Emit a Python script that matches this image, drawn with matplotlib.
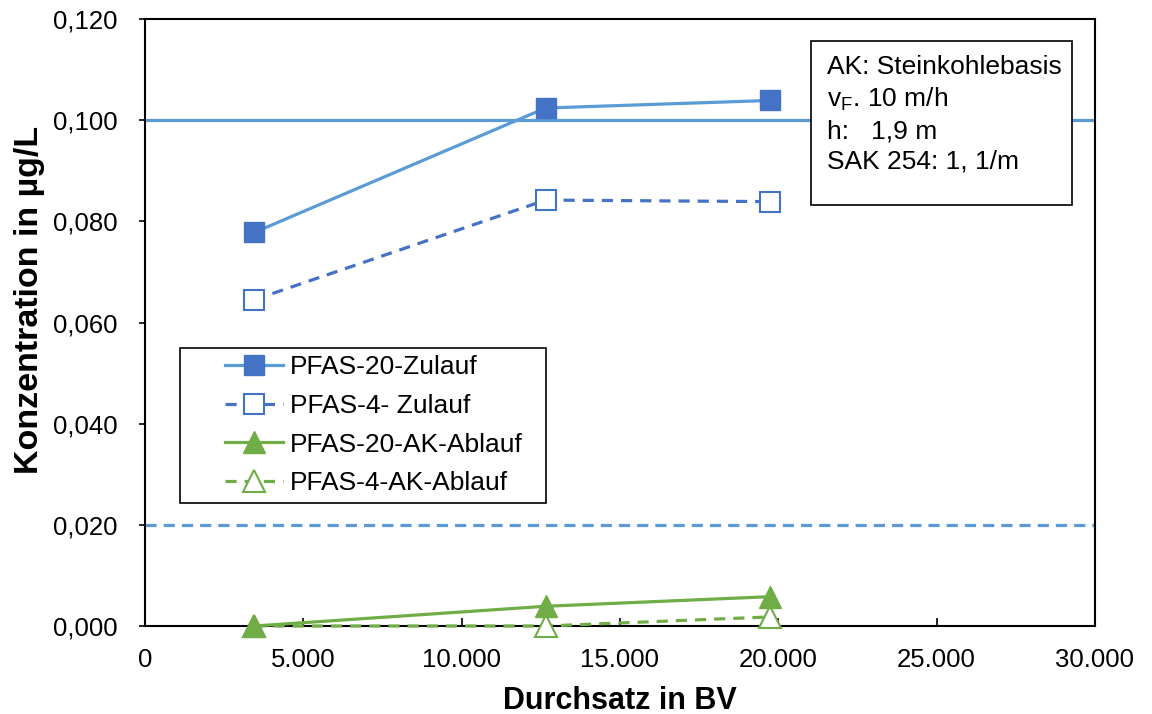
import matplotlib
matplotlib.use("Agg")
import matplotlib.pyplot as plt
from matplotlib.ticker import FuncFormatter, MultipleLocator
from matplotlib.patches import Rectangle

plt.rcParams['font.family'] = ['Liberation Sans', 'DejaVu Sans']

bv = [3450, 12650, 19750]
pfas20_zulauf = [0.0778, 0.1024, 0.1039]
pfas4_zulauf = [0.0645, 0.0842, 0.0839]
pfas20_ablauf = [0.0, 0.0039, 0.0058]
pfas4_ablauf = [0.0, 0.0, 0.0018]
limit_upper = 0.100
limit_lower = 0.020

L, R, T, B = 145, 1095, 19, 626
fig = plt.figure(figsize=(11.52, 7.14), dpi=100)
ax = fig.add_axes([L/1152, 1-B/714, (R-L)/1152, (B-T)/714])

def fx(x):
    return (x - L) / (R - L)

def fy(y):
    return (B - y) / (B - T)

ax.axhline(limit_upper, color='#5B9BD5', lw=2.3, zorder=1)
ax.axhline(limit_lower, color='#5B9BD5', lw=2.3, ls=(0, (3.5, 2.2)), zorder=1)

ax.plot(bv, pfas20_zulauf, color='#5B9BD5', lw=2.3, marker='s', ms=14.5,
        mfc='#4472C4', mec='#4472C4', label='PFAS-20-Zulauf', zorder=3, clip_on=False)
ax.plot(bv, pfas4_zulauf, color='#4472C4', lw=2.3, ls=(0, (3.5, 2.5)), marker='s', ms=14.5,
        mfc='white', mec='#4472C4', mew=1.5, label='PFAS-4- Zulauf', zorder=3, clip_on=False)
ax.plot(bv, pfas4_ablauf, color='#70AD47', lw=2.3, ls=(0, (3.5, 2.5)), marker='^', ms=16,
        mfc='white', mec='#70AD47', mew=1.5, label='PFAS-4-AK-Ablauf', zorder=3, clip_on=False)
ax.plot(bv, pfas20_ablauf, color='#70AD47', lw=2.3, marker='^', ms=16,
        mfc='#70AD47', mec='#70AD47', label='PFAS-20-AK-Ablauf', zorder=3.5, clip_on=False)

ax.set_xlim(0, 30000)
ax.set_ylim(0, 0.12)
ax.xaxis.set_major_locator(MultipleLocator(5000))
ax.yaxis.set_major_locator(MultipleLocator(0.02))
ax.xaxis.set_major_formatter(FuncFormatter(lambda v, p: '0' if v == 0 else f"{int(v):,}".replace(',', '.')))
ax.yaxis.set_major_formatter(FuncFormatter(lambda v, p: f"{v:.3f}".replace('.', ',')))
ax.tick_params(axis='x', direction='in', length=6, width=1.2, labelsize=18.5, pad=16)
ax.tick_params(axis='y', direction='out', length=4, width=1.2, labelsize=18.5, pad=16)
for s in ax.spines.values():
    s.set_linewidth(1.5)
    s.set_color('black')

ax.set_xlabel('Durchsatz in BV', fontsize=22, fontweight='bold', labelpad=10)
ax.set_ylabel('Konzentration in µg/L', fontsize=24.5, fontweight='bold')
ax.yaxis.set_label_coords(fx(30), fy(300))
ax.yaxis.label.set_va('center')

# legend frame
ax.add_patch(Rectangle((fx(180), fy(503)), fx(546) - fx(180), fy(348) - fy(503),
                       transform=ax.transAxes, fill=True, fc='white', ec='black',
                       lw=1.2, clip_on=False, zorder=4))
handles, labels = ax.get_legend_handles_labels()
order = [0, 1, 3, 2]
leg = ax.legend([handles[i] for i in order], [labels[i] for i in order],
                loc='upper left', bbox_to_anchor=(fx(225), fy(355)),
                fontsize=19, frameon=False, borderpad=0, labelspacing=0.56,
                handlelength=2.2, handletextpad=0.27, borderaxespad=0)
leg.set_zorder(6)

# info box
ax.add_patch(Rectangle((fx(811), fy(205)), fx(1072) - fx(811), fy(41) - fy(205),
                       transform=ax.transAxes, fill=True, fc='white', ec='black',
                       lw=1.2, clip_on=False, zorder=4))
info = "AK: Steinkohlebasis\nv$_\\mathregular{F}$. 10 m/h\nh:   1,9 m\nSAK 254: 1, 1/m"
ax.text(fx(827), fy(55), info, transform=ax.transAxes, fontsize=19,
        va='top', ha='left', linespacing=1.32, zorder=5)

fig.savefig('out.png', dpi=100)
